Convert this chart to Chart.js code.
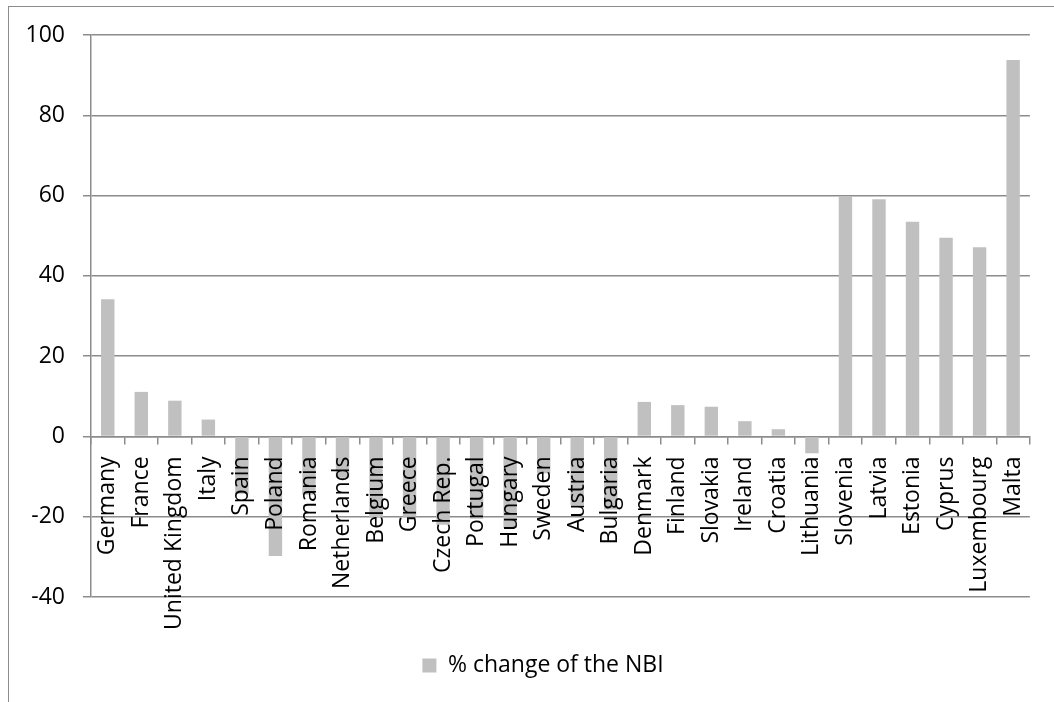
<!DOCTYPE html>
<html>
<head>
  <meta charset="UTF-8">
  <title>% change of the NBI</title>
  <script src="https://cdn.jsdelivr.net/npm/chart.js"></script>
  <style>
    body {
      margin: 0;
      padding: 0;
      background: #ffffff;
      overflow: hidden;
    }
    .frame {
      position: absolute;
      left: 8px;
      top: 6px;
      right: 0;
      bottom: 0;
      border-left: 1.5px solid #8c8c8c;
      border-top: 1.5px solid #8c8c8c;
    }
    #chart {
      position: absolute;
      left: 0;
      top: 0;
    }
  </style>
</head>
<body>
<div class="frame"></div>
<canvas id="chart" width="1054" height="702"></canvas>

<script>
  // countries in the order shown
  const countries = [
    'Germany', 'France', 'United Kingdom', 'Italy', 'Spain', 'Poland', 'Romania',
    'Netherlands', 'Belgium', 'Greece', 'Czech Rep.', 'Portugal', 'Hungary', 'Sweden',
    'Austria', 'Bulgaria', 'Denmark', 'Finland', 'Slovakia', 'Ireland', 'Croatia',
    'Lithuania', 'Slovenia', 'Latvia', 'Estonia', 'Cyprus', 'Luxembourg', 'Malta'
  ];

  // % change of the NBI
  const nbiChange = [
    34.2, 11.1, 8.9, 4.2, -14.3, -29.8, -14.5,
    -10.3, -20.3, -20.0, -22.0, -20.5, -22.8, -9.2,
    -17.2, -18.2, 8.6, 7.8, 7.4, 3.8, 1.8,
    -4.2, 59.9, 59.1, 53.5, 49.5, 47.1, 93.8
  ];

  const yTicks = { min: -40, max: 100, step: 20 };

  const axisGrey = '#8c8c8c';

  // nudge the legend a bit to the right, like in the original
  const legendShift = {
    id: 'legendShift',
    afterLayout(chart) {
      chart.legend.left += 24;
      chart.legend.right += 24;
    }
  };

  new Chart(document.getElementById('chart').getContext('2d'), {
    type: 'bar',
    data: {
      labels: countries,
      datasets: [{
        label: '% change of the NBI',
        data: nbiChange,
        backgroundColor: '#c0c0c0',
        borderWidth: 0,
        categoryPercentage: 1.0,
        barPercentage: 0.4
      }]
    },
    options: {
      responsive: false,
      devicePixelRatio: 1,
      animation: false,
      layout: {
        padding: { left: 0, right: 16, top: 35, bottom: 15 }
      },
      plugins: {
        tooltip: { enabled: false },
        legend: {
          position: 'bottom',
          labels: {
            boxWidth: 14,
            boxHeight: 14,
            padding: 57,
            color: '#000000',
            font: { family: 'Open Sans', size: 23 }
          }
        }
      },
      scales: {
        x: {
          position: { y: 0 },
          grid: {
            display: true,
            drawOnChartArea: false,
            drawTicks: true,
            tickLength: 7,
            offset: true,
            color: axisGrey,
            lineWidth: 1.5
          },
          border: { display: true, color: axisGrey, width: 1.5 },
          ticks: {
            z: 1,
            autoSkip: false,
            minRotation: 90,
            maxRotation: 90,
            padding: 13,
            color: '#000000',
            font: { family: 'Open Sans', size: 23 }
          },
          afterFit: function (scale) { scale.height = 0; }
        },
        y: {
          min: yTicks.min,
          max: yTicks.max,
          grid: {
            color: axisGrey,
            lineWidth: 1.5,
            tickLength: 8
          },
          border: { display: true, color: axisGrey, width: 1.5 },
          ticks: {
            stepSize: yTicks.step,
            padding: 18,
            color: '#000000',
            font: { family: 'Open Sans', size: 23 }
          },
          afterFit: function (scale) { scale.width = 91; }
        }
      }
    },
    plugins: [legendShift]
  });
</script>
</body>
</html>
